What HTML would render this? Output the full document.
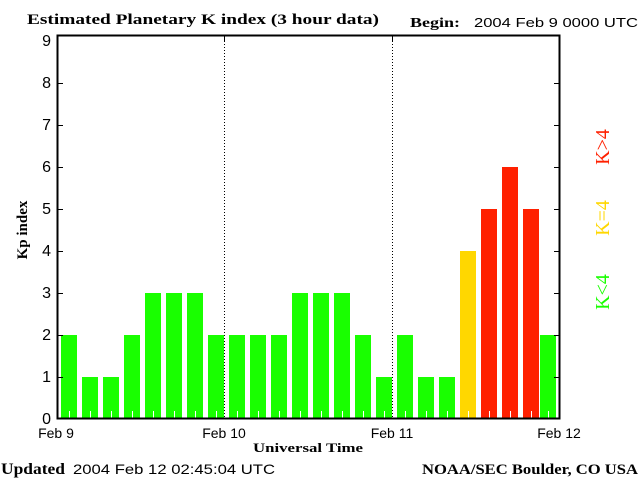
<!DOCTYPE html>
<html><head><style>body{margin:0;background:#fff}svg{display:block}</style></head><body>
<svg width="640" height="480" xmlns="http://www.w3.org/2000/svg" font-family="Liberation Sans, sans-serif">
<text x="27" y="24" font-family="Liberation Serif, serif" font-weight="bold" font-size="15" textLength="352" lengthAdjust="spacingAndGlyphs">Estimated Planetary K index (3 hour data)</text>
<text x="410" y="27" font-family="Liberation Serif, serif" font-weight="bold" font-size="14" textLength="50" lengthAdjust="spacingAndGlyphs">Begin:</text>
<text x="474" y="27" font-size="13" textLength="164" lengthAdjust="spacingAndGlyphs">2004 Feb 9 0000 UTC</text>
<g fill="#19ff00">
<rect x="61" y="335" width="16" height="84"/><rect x="82" y="377" width="16" height="42"/><rect x="103" y="377" width="16" height="42"/><rect x="124" y="335" width="16" height="84"/><rect x="145" y="293" width="16" height="126"/><rect x="166" y="293" width="16" height="126"/><rect x="187" y="293" width="16" height="126"/><rect x="208" y="335" width="16" height="84"/>
<rect x="229" y="335" width="16" height="84"/><rect x="250" y="335" width="16" height="84"/><rect x="271" y="335" width="16" height="84"/><rect x="292" y="293" width="16" height="126"/><rect x="313" y="293" width="16" height="126"/><rect x="334" y="293" width="16" height="126"/><rect x="355" y="335" width="16" height="84"/><rect x="376" y="377" width="16" height="42"/>
<rect x="397" y="335" width="16" height="84"/><rect x="418" y="377" width="16" height="42"/><rect x="439" y="377" width="16" height="42"/><rect x="540" y="335" width="16" height="84"/>
</g>
<rect x="460" y="251" width="16" height="168" fill="#ffd700"/>
<g fill="#ff2000"><rect x="481" y="209" width="16" height="210"/><rect x="502" y="167" width="16" height="252"/><rect x="523" y="209" width="16" height="210"/></g>
<g stroke="#fff" stroke-width="1">
<path d="M69.5 411V418M90.5 411V418M111.5 411V418M132.5 411V418M153.5 411V418M174.5 411V418M195.5 411V418M216.5 411V418M237.5 411V418M258.5 411V418M279.5 411V418M300.5 411V418M321.5 411V418M342.5 411V418M363.5 411V418M384.5 411V418M405.5 411V418M426.5 411V418M447.5 411V418M468.5 411V418M489.5 411V418M510.5 411V418M531.5 411V418M548.5 411V418"/>
</g>
<g stroke="#000" stroke-width="1" fill="none">
<path d="M224.5 35V419M392.5 35V419" stroke-dasharray="1 2"/>
<rect x="57.5" y="35.5" width="502" height="383" stroke-width="2"/>
<path d="M57 377.5H63M57 335.5H63M57 293.5H63M57 251.5H63M57 209.5H63M57 167.5H63M57 125.5H63M57 83.5H63M560 377.5H554M560 335.5H554M560 293.5H554M560 251.5H554M560 209.5H554M560 167.5H554M560 125.5H554M560 83.5H554M224.5 35V41M392.5 35V41"/>
</g>
<g font-size="16" text-anchor="end">
<text x="51" y="424">0</text><text x="51" y="382">1</text><text x="51" y="340">2</text><text x="51" y="298">3</text><text x="51" y="256">4</text><text x="51" y="214">5</text><text x="51" y="172">6</text><text x="51" y="130">7</text><text x="51" y="88">8</text><text x="51" y="46">9</text>
</g>
<g font-size="14" text-anchor="middle">
<text x="56" y="438">Feb 9</text><text x="224" y="438">Feb 10</text><text x="392" y="438">Feb 11</text><text x="559" y="438">Feb 12</text>
</g>
<text x="253" y="452" font-family="Liberation Serif, serif" font-weight="bold" font-size="13" textLength="110" lengthAdjust="spacingAndGlyphs">Universal Time</text>
<text transform="translate(27,230) rotate(-90)" font-family="Liberation Serif, serif" font-weight="bold" font-size="15" text-anchor="middle">Kp index</text>
<g font-family="Liberation Serif, serif" font-size="20" text-anchor="middle">
<text transform="translate(609,147) rotate(-90)" fill="#ff2000">K&gt;4</text>
<text transform="translate(609,218) rotate(-90)" fill="#ffd700">K=4</text>
<text transform="translate(609,292) rotate(-90)" fill="#19ff00">K&lt;4</text>
</g>
<text x="1" y="474" font-family="Liberation Serif, serif" font-weight="bold" font-size="16" textLength="64" lengthAdjust="spacingAndGlyphs">Updated</text>
<text x="73" y="474" font-size="14" textLength="202" lengthAdjust="spacingAndGlyphs">2004 Feb 12 02:45:04 UTC</text>
<text x="422" y="474" font-family="Liberation Serif, serif" font-weight="bold" font-size="15" textLength="216" lengthAdjust="spacingAndGlyphs">NOAA/SEC Boulder, CO USA</text>
</svg>
</body></html>
